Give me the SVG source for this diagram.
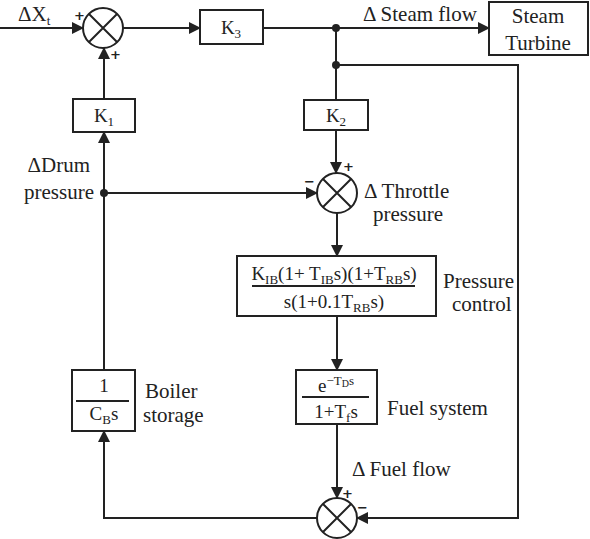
<svg xmlns="http://www.w3.org/2000/svg" width="590" height="539" viewBox="0 0 590 539">
<style>
.ln{fill:none;stroke:#222;stroke-width:2}
.bx{fill:#fff;stroke:#222;stroke-width:2}
.t{font-family:'Liberation Serif','Times New Roman','DejaVu Serif',serif;fill:#222;font-size:21px}
.m{font-family:'Liberation Serif','Times New Roman','DejaVu Serif',serif;fill:#222;font-size:19px}
.s{font-size:13px}
.sg{font-family:'DejaVu Sans',sans-serif;font-weight:bold;fill:#222;font-size:13px}
</style>
<defs>
<marker id="ar" markerWidth="12" markerHeight="12" refX="11" refY="6" orient="auto" markerUnits="userSpaceOnUse">
<path d="M0,0 L12,6 L0,12 Z" fill="#222"/>
</marker>
</defs>
<rect width="590" height="539" fill="#fff"/>
<g id="connectors">
<path class="ln" d="M0,28 H83" marker-end="url(#ar)"/>
<path class="ln" d="M123,28 H200" marker-end="url(#ar)"/>
<path class="ln" d="M263,28 H489" marker-end="url(#ar)"/>
<path class="ln" d="M336,28 V100"/>
<path class="ln" d="M336,65 H518 V518 H357" marker-end="url(#ar)"/>
<path class="ln" d="M104,99 V48" marker-end="url(#ar)"/>
<path class="ln" d="M336,130 V173" marker-end="url(#ar)"/>
<path class="ln" d="M104,193 H317" marker-end="url(#ar)"/>
<path class="ln" d="M337,213 V256" marker-end="url(#ar)"/>
<path class="ln" d="M337,316 V370" marker-end="url(#ar)"/>
<path class="ln" d="M337,424 V498" marker-end="url(#ar)"/>
<path class="ln" d="M317,518 H104 V431" marker-end="url(#ar)"/>
<path class="ln" d="M104,370 V132" marker-end="url(#ar)"/>
<circle cx="336" cy="28" r="4" fill="#222"/>
<circle cx="336" cy="65" r="4" fill="#222"/>
<circle cx="104" cy="193" r="4" fill="#222"/>
</g>
<g id="sum1">
<circle class="bx" cx="103" cy="28" r="20"/>
<path class="ln" d="M89,14 L117,42 M117,14 L89,42"/>
<text class="sg" x="74" y="20">+</text>
<text class="sg" x="110" y="59">+</text>
</g>
<g id="input">
<text class="t" x="18" y="21">ΔX<tspan class="s" dy="4">t</tspan></text>
</g>
<g id="K3">
<rect class="bx" x="200" y="10" width="63" height="34"/>
<text class="m" x="231" y="34" text-anchor="middle">K<tspan class="s" dy="4">3</tspan></text>
</g>
<g id="steamflow"><text class="t" x="363" y="21">Δ Steam flow</text></g>
<g id="turbine">
<rect class="bx" x="489" y="2" width="99" height="53"/>
<text class="t" x="538" y="23" text-anchor="middle">Steam</text>
<text class="t" x="538" y="50" text-anchor="middle">Turbine</text>
</g>
<g id="K1">
<rect class="bx" x="73" y="99" width="62" height="33"/>
<text class="m" x="104" y="122" text-anchor="middle">K<tspan class="s" dy="4">1</tspan></text>
</g>
<g id="K2">
<rect class="bx" x="304" y="100" width="64" height="30"/>
<text class="m" x="336" y="122" text-anchor="middle">K<tspan class="s" dy="4">2</tspan></text>
</g>
<g id="drum">
<text class="t" x="90" y="172" text-anchor="end">ΔDrum</text>
<text class="t" x="94" y="199" text-anchor="end">pressure</text>
</g>
<g id="sum2">
<circle class="bx" cx="337" cy="193" r="20"/>
<path class="ln" d="M323,179 L351,207 M351,179 L323,207"/>
<text class="sg" x="343" y="171">+</text>
<text class="sg" x="304" y="186">−</text>
<text class="t" x="364" y="198">Δ Throttle</text>
<text class="t" x="373" y="221">pressure</text>
</g>
<g id="pressurecontrol">
<rect class="bx" x="237" y="256" width="199" height="60"/>
<path class="ln" d="M252,286 H415"/>
<text class="m" x="334" y="280" text-anchor="middle">K<tspan class="s" dy="4">IB</tspan><tspan dy="-4">(1+ T</tspan><tspan class="s" dy="4">IB</tspan><tspan dy="-4">s)(1+T</tspan><tspan class="s" dy="4">RB</tspan><tspan dy="-4">s)</tspan></text>
<text class="m" x="334" y="308" text-anchor="middle">s(1+0.1T<tspan class="s" dy="4">RB</tspan><tspan dy="-4">s)</tspan></text>
<text class="t" x="443" y="288">Pressure</text>
<text class="t" x="452" y="311">control</text>
</g>
<g id="fuelsystem">
<rect class="bx" x="296" y="370" width="81" height="54"/>
<path class="ln" d="M302,397 H369"/>
<text class="m" x="336" y="392" text-anchor="middle">e<tspan class="s" dy="-7">−T</tspan><tspan style="font-size:10px" dy="2">D</tspan><tspan class="s" dy="-2">s</tspan></text>
<text class="m" x="336" y="418" text-anchor="middle">1+T<tspan class="s" dy="4">f</tspan><tspan dy="-4">s</tspan></text>
<text class="t" x="387" y="415">Fuel system</text>
</g>
<g id="fuelflow"><text class="t" x="352" y="476">Δ Fuel flow</text></g>
<g id="sum3">
<circle class="bx" cx="337" cy="518" r="20"/>
<path class="ln" d="M323,504 L351,532 M351,504 L323,532"/>
<text class="sg" x="342" y="498">+</text>
<text class="sg" x="357" y="512">−</text>
</g>
<g id="boiler">
<rect class="bx" x="72" y="370" width="63" height="61"/>
<path class="ln" d="M76,401 H129"/>
<text class="m" x="104" y="392" text-anchor="middle">1</text>
<text class="m" x="104" y="420" text-anchor="middle">C<tspan class="s" dy="4">B</tspan><tspan dy="-4">s</tspan></text>
<text class="t" x="145" y="398">Boiler</text>
<text class="t" x="143" y="422">storage</text>
</g>
</svg>
